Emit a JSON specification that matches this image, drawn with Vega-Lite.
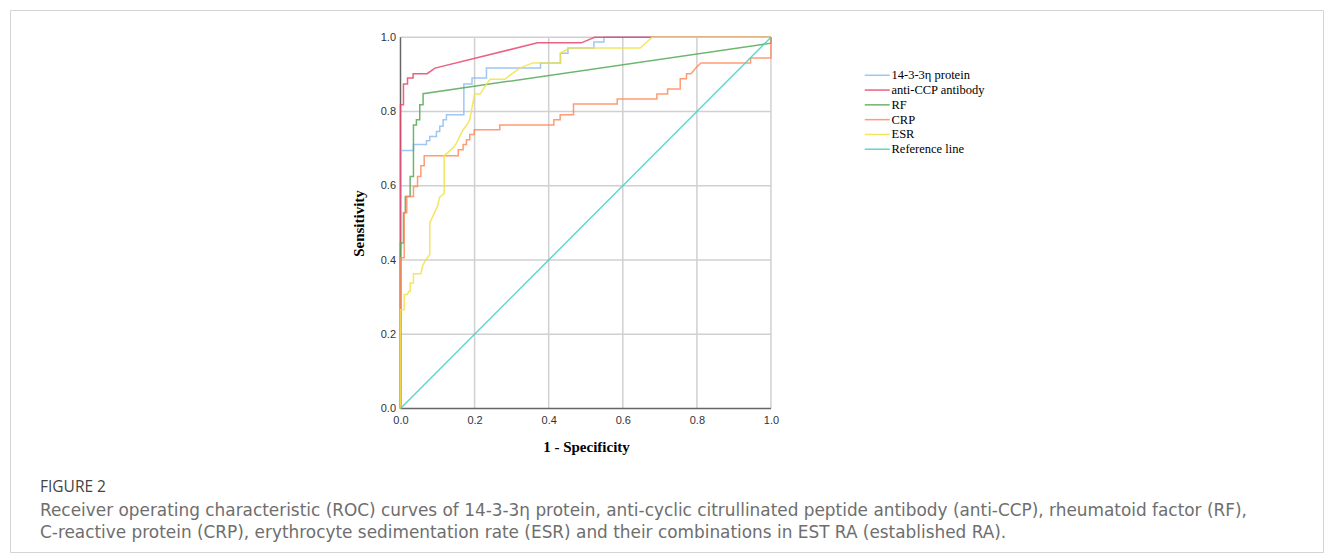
{
  "$schema": "https://vega.github.io/schema/vega-lite/v6.json",
  "width": 1313,
  "height": 542,
  "autosize": {"type": "none"},
  "padding": {"left": 10, "top": 10, "right": 10, "bottom": 1},
  "background": "white",
  "config": {
    "view": {"stroke": "#d4d4d4", "strokeWidth": 1},
    "axis": {"grid": false, "ticks": false, "domain": false}
  },
  "title": {
    "text": "FIGURE 2",
    "subtitle": ["Receiver operating characteristic (ROC) curves of 14-3-3η protein, anti-cyclic citrullinated peptide antibody (anti-CCP), rheumatoid factor (RF),", "C-reactive protein (CRP), erythrocyte sedimentation rate (ESR) and their combinations in EST RA (established RA)."],
    "orient": "bottom",
    "anchor": "start",
    "frame": "group",
    "offset": -72,
    "dx": 30,
    "font": "Open Sans",
    "fontSize": 15.5,
    "fontWeight": "normal",
    "color": "#444444",
    "subtitleFont": "DejaVu Sans",
    "subtitleFontSize": 16.9,
    "subtitleColor": "#6e6e6e",
    "subtitleLineHeight": 22,
    "subtitlePadding": 7
  },
  "layer": [
    {
      "data": {"values": [{"g": 0.2}, {"g": 0.4}, {"g": 0.6}, {"g": 0.8}, {"g": 1.0}]},
      "mark": {"type": "rule", "color": "#d0d0d0", "strokeWidth": 1.5},
      "encoding": {
        "x": {"field": "g", "type": "quantitative", "scale": {"domain": [-1.054, 2.49], "nice": false, "zero": false}},
        "y": {"datum": 0, "type": "quantitative", "scale": {"domain": [-0.3866, 1.0735], "nice": false, "zero": false}},
        "y2": {"datum": 1}
      }
    },
    {
      "data": {"values": [{"g": 0.2}, {"g": 0.4}, {"g": 0.6}, {"g": 0.8}, {"g": 1.0}]},
      "mark": {"type": "rule", "color": "#d0d0d0", "strokeWidth": 1.5},
      "encoding": {
        "y": {"field": "g", "type": "quantitative", "scale": {"domain": [-0.3866, 1.0735], "nice": false, "zero": false}},
        "x": {"datum": 0, "type": "quantitative", "scale": {"domain": [-1.054, 2.49], "nice": false, "zero": false}},
        "x2": {"datum": 1}
      }
    },
    {
      "data": {"values": [{"a": "x"}]},
      "mark": {"type": "rule", "color": "#666666", "strokeWidth": 1.5},
      "encoding": {
        "x": {"datum": 0, "type": "quantitative", "scale": {"domain": [-1.054, 2.49], "nice": false, "zero": false}},
        "x2": {"datum": 1},
        "y": {"datum": 0, "type": "quantitative", "scale": {"domain": [-0.3866, 1.0735], "nice": false, "zero": false}}
      }
    },
    {
      "data": {"values": [{"a": "y"}]},
      "mark": {"type": "rule", "color": "#666666", "strokeWidth": 1.5},
      "encoding": {
        "y": {"datum": 0, "type": "quantitative", "scale": {"domain": [-0.3866, 1.0735], "nice": false, "zero": false}},
        "y2": {"datum": 1},
        "x": {"datum": 0, "type": "quantitative", "scale": {"domain": [-1.054, 2.49], "nice": false, "zero": false}}
      }
    },
    {
      "data": {"values": [
        {"s": "14-3-3η protein", "i": 0, "x": 0, "y": 0},
        {"s": "14-3-3η protein", "i": 1, "x": 0, "y": 0.695},
        {"s": "14-3-3η protein", "i": 2, "x": 0.035, "y": 0.695},
        {"s": "14-3-3η protein", "i": 3, "x": 0.035, "y": 0.711},
        {"s": "14-3-3η protein", "i": 4, "x": 0.07, "y": 0.711},
        {"s": "14-3-3η protein", "i": 5, "x": 0.07, "y": 0.721},
        {"s": "14-3-3η protein", "i": 6, "x": 0.079, "y": 0.721},
        {"s": "14-3-3η protein", "i": 7, "x": 0.079, "y": 0.733},
        {"s": "14-3-3η protein", "i": 8, "x": 0.097, "y": 0.733},
        {"s": "14-3-3η protein", "i": 9, "x": 0.097, "y": 0.746},
        {"s": "14-3-3η protein", "i": 10, "x": 0.106, "y": 0.746},
        {"s": "14-3-3η protein", "i": 11, "x": 0.106, "y": 0.76},
        {"s": "14-3-3η protein", "i": 12, "x": 0.115, "y": 0.76},
        {"s": "14-3-3η protein", "i": 13, "x": 0.115, "y": 0.778},
        {"s": "14-3-3η protein", "i": 14, "x": 0.124, "y": 0.778},
        {"s": "14-3-3η protein", "i": 15, "x": 0.124, "y": 0.791},
        {"s": "14-3-3η protein", "i": 16, "x": 0.171, "y": 0.791},
        {"s": "14-3-3η protein", "i": 17, "x": 0.171, "y": 0.874},
        {"s": "14-3-3η protein", "i": 18, "x": 0.193, "y": 0.874},
        {"s": "14-3-3η protein", "i": 19, "x": 0.193, "y": 0.89},
        {"s": "14-3-3η protein", "i": 20, "x": 0.232, "y": 0.89},
        {"s": "14-3-3η protein", "i": 21, "x": 0.232, "y": 0.917},
        {"s": "14-3-3η protein", "i": 22, "x": 0.378, "y": 0.917},
        {"s": "14-3-3η protein", "i": 23, "x": 0.378, "y": 0.931},
        {"s": "14-3-3η protein", "i": 24, "x": 0.432, "y": 0.931},
        {"s": "14-3-3η protein", "i": 25, "x": 0.432, "y": 0.957},
        {"s": "14-3-3η protein", "i": 26, "x": 0.452, "y": 0.957},
        {"s": "14-3-3η protein", "i": 27, "x": 0.452, "y": 0.971},
        {"s": "14-3-3η protein", "i": 28, "x": 0.522, "y": 0.971},
        {"s": "14-3-3η protein", "i": 29, "x": 0.522, "y": 0.987},
        {"s": "14-3-3η protein", "i": 30, "x": 0.549, "y": 0.987},
        {"s": "14-3-3η protein", "i": 31, "x": 0.549, "y": 1},
        {"s": "14-3-3η protein", "i": 32, "x": 1, "y": 1},

        {"s": "anti-CCP antibody", "i": 0, "x": 0, "y": 0},
        {"s": "anti-CCP antibody", "i": 1, "x": 0, "y": 0.818},
        {"s": "anti-CCP antibody", "i": 2, "x": 0.008, "y": 0.818},
        {"s": "anti-CCP antibody", "i": 3, "x": 0.008, "y": 0.874},
        {"s": "anti-CCP antibody", "i": 4, "x": 0.019, "y": 0.874},
        {"s": "anti-CCP antibody", "i": 5, "x": 0.019, "y": 0.89},
        {"s": "anti-CCP antibody", "i": 6, "x": 0.034, "y": 0.89},
        {"s": "anti-CCP antibody", "i": 7, "x": 0.034, "y": 0.902},
        {"s": "anti-CCP antibody", "i": 8, "x": 0.072, "y": 0.902},
        {"s": "anti-CCP antibody", "i": 9, "x": 0.093, "y": 0.917},
        {"s": "anti-CCP antibody", "i": 10, "x": 0.37, "y": 0.985},
        {"s": "anti-CCP antibody", "i": 11, "x": 0.488, "y": 0.985},
        {"s": "anti-CCP antibody", "i": 12, "x": 0.524, "y": 1},
        {"s": "anti-CCP antibody", "i": 13, "x": 1, "y": 1},

        {"s": "RF", "i": 0, "x": 0, "y": 0},
        {"s": "RF", "i": 1, "x": 0, "y": 0.446},
        {"s": "RF", "i": 2, "x": 0.008, "y": 0.446},
        {"s": "RF", "i": 3, "x": 0.008, "y": 0.527},
        {"s": "RF", "i": 4, "x": 0.013, "y": 0.527},
        {"s": "RF", "i": 5, "x": 0.013, "y": 0.571},
        {"s": "RF", "i": 6, "x": 0.026, "y": 0.571},
        {"s": "RF", "i": 7, "x": 0.026, "y": 0.625},
        {"s": "RF", "i": 8, "x": 0.035, "y": 0.625},
        {"s": "RF", "i": 9, "x": 0.035, "y": 0.764},
        {"s": "RF", "i": 10, "x": 0.043, "y": 0.764},
        {"s": "RF", "i": 11, "x": 0.043, "y": 0.778},
        {"s": "RF", "i": 12, "x": 0.052, "y": 0.778},
        {"s": "RF", "i": 13, "x": 0.052, "y": 0.818},
        {"s": "RF", "i": 14, "x": 0.061, "y": 0.818},
        {"s": "RF", "i": 15, "x": 0.061, "y": 0.848},
        {"s": "RF", "i": 16, "x": 1, "y": 0.984},
        {"s": "RF", "i": 17, "x": 1, "y": 1},

        {"s": "CRP", "i": 0, "x": 0, "y": 0},
        {"s": "CRP", "i": 1, "x": 0, "y": 0.406},
        {"s": "CRP", "i": 2, "x": 0.01, "y": 0.406},
        {"s": "CRP", "i": 3, "x": 0.01, "y": 0.527},
        {"s": "CRP", "i": 4, "x": 0.017, "y": 0.527},
        {"s": "CRP", "i": 5, "x": 0.017, "y": 0.571},
        {"s": "CRP", "i": 6, "x": 0.035, "y": 0.571},
        {"s": "CRP", "i": 7, "x": 0.035, "y": 0.598},
        {"s": "CRP", "i": 8, "x": 0.046, "y": 0.598},
        {"s": "CRP", "i": 9, "x": 0.046, "y": 0.625},
        {"s": "CRP", "i": 10, "x": 0.055, "y": 0.625},
        {"s": "CRP", "i": 11, "x": 0.055, "y": 0.654},
        {"s": "CRP", "i": 12, "x": 0.064, "y": 0.654},
        {"s": "CRP", "i": 13, "x": 0.064, "y": 0.681},
        {"s": "CRP", "i": 14, "x": 0.156, "y": 0.681},
        {"s": "CRP", "i": 15, "x": 0.156, "y": 0.697},
        {"s": "CRP", "i": 16, "x": 0.169, "y": 0.697},
        {"s": "CRP", "i": 17, "x": 0.169, "y": 0.711},
        {"s": "CRP", "i": 18, "x": 0.178, "y": 0.711},
        {"s": "CRP", "i": 19, "x": 0.178, "y": 0.724},
        {"s": "CRP", "i": 20, "x": 0.187, "y": 0.724},
        {"s": "CRP", "i": 21, "x": 0.187, "y": 0.738},
        {"s": "CRP", "i": 22, "x": 0.199, "y": 0.738},
        {"s": "CRP", "i": 23, "x": 0.199, "y": 0.751},
        {"s": "CRP", "i": 24, "x": 0.268, "y": 0.751},
        {"s": "CRP", "i": 25, "x": 0.268, "y": 0.764},
        {"s": "CRP", "i": 26, "x": 0.414, "y": 0.764},
        {"s": "CRP", "i": 27, "x": 0.414, "y": 0.778},
        {"s": "CRP", "i": 28, "x": 0.431, "y": 0.778},
        {"s": "CRP", "i": 29, "x": 0.431, "y": 0.791},
        {"s": "CRP", "i": 30, "x": 0.467, "y": 0.791},
        {"s": "CRP", "i": 31, "x": 0.467, "y": 0.82},
        {"s": "CRP", "i": 32, "x": 0.585, "y": 0.82},
        {"s": "CRP", "i": 33, "x": 0.585, "y": 0.834},
        {"s": "CRP", "i": 34, "x": 0.692, "y": 0.834},
        {"s": "CRP", "i": 35, "x": 0.692, "y": 0.847},
        {"s": "CRP", "i": 36, "x": 0.721, "y": 0.847},
        {"s": "CRP", "i": 37, "x": 0.721, "y": 0.861},
        {"s": "CRP", "i": 38, "x": 0.755, "y": 0.861},
        {"s": "CRP", "i": 39, "x": 0.755, "y": 0.888},
        {"s": "CRP", "i": 40, "x": 0.772, "y": 0.888},
        {"s": "CRP", "i": 41, "x": 0.772, "y": 0.902},
        {"s": "CRP", "i": 42, "x": 0.784, "y": 0.902},
        {"s": "CRP", "i": 43, "x": 0.797, "y": 0.917},
        {"s": "CRP", "i": 44, "x": 0.811, "y": 0.931},
        {"s": "CRP", "i": 45, "x": 0.945, "y": 0.931},
        {"s": "CRP", "i": 46, "x": 0.945, "y": 0.944},
        {"s": "CRP", "i": 47, "x": 1, "y": 0.944},
        {"s": "CRP", "i": 48, "x": 1, "y": 1},

        {"s": "ESR", "i": 0, "x": 0, "y": 0},
        {"s": "ESR", "i": 1, "x": 0, "y": 0.266},
        {"s": "ESR", "i": 2, "x": 0.01, "y": 0.266},
        {"s": "ESR", "i": 3, "x": 0.01, "y": 0.307},
        {"s": "ESR", "i": 4, "x": 0.018, "y": 0.307},
        {"s": "ESR", "i": 5, "x": 0.022, "y": 0.315},
        {"s": "ESR", "i": 6, "x": 0.026, "y": 0.315},
        {"s": "ESR", "i": 7, "x": 0.026, "y": 0.338},
        {"s": "ESR", "i": 8, "x": 0.035, "y": 0.338},
        {"s": "ESR", "i": 9, "x": 0.035, "y": 0.363},
        {"s": "ESR", "i": 10, "x": 0.055, "y": 0.363},
        {"s": "ESR", "i": 11, "x": 0.06, "y": 0.385},
        {"s": "ESR", "i": 12, "x": 0.068, "y": 0.4},
        {"s": "ESR", "i": 13, "x": 0.079, "y": 0.414},
        {"s": "ESR", "i": 14, "x": 0.079, "y": 0.5},
        {"s": "ESR", "i": 15, "x": 0.1, "y": 0.545},
        {"s": "ESR", "i": 16, "x": 0.106, "y": 0.57},
        {"s": "ESR", "i": 17, "x": 0.118, "y": 0.579},
        {"s": "ESR", "i": 18, "x": 0.118, "y": 0.681},
        {"s": "ESR", "i": 19, "x": 0.142, "y": 0.702},
        {"s": "ESR", "i": 20, "x": 0.151, "y": 0.715},
        {"s": "ESR", "i": 21, "x": 0.169, "y": 0.751},
        {"s": "ESR", "i": 22, "x": 0.18, "y": 0.765},
        {"s": "ESR", "i": 23, "x": 0.187, "y": 0.778},
        {"s": "ESR", "i": 24, "x": 0.2, "y": 0.847},
        {"s": "ESR", "i": 25, "x": 0.215, "y": 0.847},
        {"s": "ESR", "i": 26, "x": 0.232, "y": 0.874},
        {"s": "ESR", "i": 27, "x": 0.242, "y": 0.887},
        {"s": "ESR", "i": 28, "x": 0.281, "y": 0.887},
        {"s": "ESR", "i": 29, "x": 0.322, "y": 0.917},
        {"s": "ESR", "i": 30, "x": 0.357, "y": 0.931},
        {"s": "ESR", "i": 31, "x": 0.431, "y": 0.931},
        {"s": "ESR", "i": 32, "x": 0.431, "y": 0.957},
        {"s": "ESR", "i": 33, "x": 0.456, "y": 0.971},
        {"s": "ESR", "i": 34, "x": 0.647, "y": 0.971},
        {"s": "ESR", "i": 35, "x": 0.679, "y": 1},
        {"s": "ESR", "i": 36, "x": 1, "y": 1},

        {"s": "Reference line", "i": 0, "x": 0, "y": 0},
        {"s": "Reference line", "i": 1, "x": 1, "y": 1}
      ]},
      "mark": {"type": "line", "strokeWidth": 1.5, "opacity": 0.85},
      "encoding": {
        "x": {
          "field": "x", "type": "quantitative",
          "scale": {"domain": [-1.054, 2.49], "nice": false, "zero": false},
          "axis": {
            "orient": "bottom", "offset": -143.5,
            "values": [0, 0.2, 0.4, 0.6, 0.8, 1.0], "format": ".1f",
            "labelFlush": false, "labelPadding": 6,
            "labelFont": "Liberation Sans", "labelFontSize": 11, "labelColor": "#333333",
            "title": "1 - Specificity", "titleFont": "Liberation Serif", "titleFontSize": 15,
            "titleFontWeight": "bold", "titleColor": "#000000", "titleX": 576, "titlePadding": 14
          }
        },
        "y": {
          "field": "y", "type": "quantitative",
          "scale": {"domain": [-0.3866, 1.0735], "nice": false, "zero": false},
          "axis": {
            "orient": "left", "offset": -390.5,
            "values": [0, 0.2, 0.4, 0.6, 0.8, 1.0], "format": ".1f",
            "labelFlush": false, "labelPadding": 5,
            "labelFont": "Liberation Sans", "labelFontSize": 11, "labelColor": "#333333",
            "title": "Sensitivity", "titleFont": "Liberation Serif", "titleFontSize": 15,
            "titleFontWeight": "bold", "titleColor": "#000000", "titleY": 213, "titleX": -34
          }
        },
        "order": {"field": "i", "type": "quantitative"},
        "color": {
          "field": "s", "type": "nominal",
          "scale": {
            "domain": ["14-3-3η protein", "anti-CCP antibody", "RF", "CRP", "ESR", "Reference line"],
            "range": ["#8fbcf5", "#e8456b", "#55a855", "#ff8a5e", "#f2e244", "#44cfc4"]
          },
          "legend": {
            "title": null, "orient": "none", "legendX": 861, "legendY": 59,
            "symbolType": "M-2.5,0H2.5", "symbolSize": 100, "symbolStrokeWidth": 1.5,
            "labelFont": "Liberation Serif", "labelFontSize": 12.5, "labelColor": "#000000",
            "labelOffset": 8, "rowPadding": 1.8, "padding": 0
          }
        }
      }
    }
  ]
}
